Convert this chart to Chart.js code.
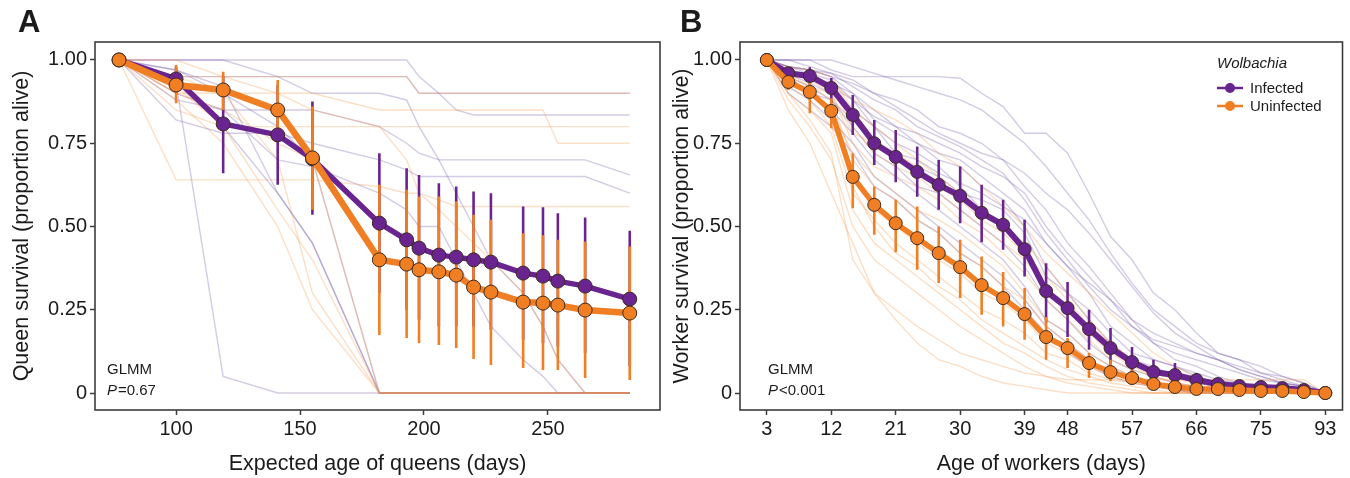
<!DOCTYPE html>
<html>
<head>
<meta charset="utf-8">
<script src="https://cdn.jsdelivr.net/npm/chart.js@4.4.1/dist/chart.umd.min.js"></script>
<style>
html, body { margin: 0; padding: 0; background: #fff; }
#wrap { position: relative; width: 1350px; height: 478px; overflow: hidden; }
.panel { position: absolute; top: 0; height: 478px; }
#panelA { left: 0; width: 672px; }
#panelB { left: 662px; width: 688px; }
</style>
</head>
<body>
<div id="wrap">
  <div class="panel" id="panelA"><canvas id="chartA"></canvas></div>
  <div class="panel" id="panelB"><canvas id="chartB"></canvas></div>
</div>
<script>
// ---- Panel A: queens ----
const queenAge = [77, 100, 119, 141, 155, 182, 193, 198, 206, 213, 220, 227, 240, 248, 254, 265, 283];
const queenInfected   = [1.00, 0.943, 0.808, 0.775, 0.703, 0.51, 0.46, 0.435, 0.414, 0.408, 0.40, 0.393, 0.36, 0.351, 0.336, 0.321, 0.282];
const queenInfHi      = [1.00, 0.98, 0.95, 0.925, 0.875, 0.72, 0.675, 0.655, 0.63, 0.62, 0.605, 0.60, 0.56, 0.558, 0.54, 0.527, 0.487];
const queenInfLo      = [1.00, 0.90, 0.66, 0.625, 0.535, 0.30, 0.25, 0.22, 0.20, 0.20, 0.20, 0.19, 0.16, 0.15, 0.14, 0.12, 0.08];
const queenUninfected = [1.00, 0.925, 0.91, 0.85, 0.706, 0.40, 0.387, 0.37, 0.364, 0.354, 0.318, 0.303, 0.273, 0.27, 0.264, 0.249, 0.24];
const queenUninfHi    = [1.00, 0.985, 0.965, 0.94, 0.86, 0.625, 0.61, 0.59, 0.59, 0.575, 0.535, 0.52, 0.48, 0.474, 0.46, 0.455, 0.44];
const queenUninfLo    = [1.00, 0.87, 0.85, 0.76, 0.55, 0.174, 0.165, 0.15, 0.144, 0.135, 0.102, 0.084, 0.075, 0.069, 0.069, 0.045, 0.039];

// individual colonies (panel A)
const queenColoniesInf = [
  [1, 0.93, 0.05, 0, 0, 0, 0, 0, 0, 0, 0, 0, 0, 0, 0, 0, 0],
  [1, 0.97, 0.92, 0.60, 0.45, 0, 0, 0, 0, 0, 0, 0, 0, 0, 0, 0, 0],
  [1, 0.95, 0.95, 0.95, 0.95, 0.95, 0.95, 0.90, 0.90, 0.90, 0.90, 0.90, 0.90, 0.90, 0.90, 0.90, 0.90],
  [1, 1, 1, 1, 1, 1, 1, 0.95, 0.90, 0.85, 0.835, 0.835, 0.835, 0.835, 0.835, 0.835, 0.835],
  [1, 0.90, 0.85, 0.85, 0.85, 0.80, 0.75, 0.72, 0.70, 0.70, 0.70, 0.70, 0.70, 0.70, 0.70, 0.70, 0.655],
  [1, 0.82, 0.78, 0.78, 0.75, 0.70, 0.67, 0.65, 0.65, 0.65, 0.65, 0.65, 0.65, 0.65, 0.65, 0.65, 0.60],
  [1, 1, 1, 0.95, 0.90, 0.90, 0.88, 0.80, 0.70, 0.60, 0.50, 0.40, 0.30, 0.20, 0.10, 0, 0],
  [1, 0.88, 0.85, 0.70, 0.68, 0.60, 0.55, 0.50, 0.50, 0.40, 0.30, 0.20, 0.10, 0.05, 0, 0, 0],
  [1, 0.97, 0.90, 0.80, 0.70, 0, 0, 0, 0, 0, 0, 0, 0, 0, 0, 0, 0],
  [1, 0.93, 0.80, 0.60, 0.45, 0, 0, 0, 0, 0, 0, 0, 0, 0, 0, 0, 0]
];
const queenColoniesUninf = [
  [1, 0.95, 0.95, 0.95, 0.95, 0.95, 0.95, 0.90, 0.90, 0.90, 0.90, 0.90, 0.90, 0.90, 0.90, 0.90, 0.90],
  [1, 0.90, 0.90, 0.90, 0.90, 0.85, 0.85, 0.85, 0.85, 0.85, 0.85, 0.85, 0.85, 0.85, 0.75, 0.75, 0.75],
  [1, 0.85, 0.80, 0.80, 0.80, 0.80, 0.80, 0.80, 0.80, 0.80, 0.80, 0.80, 0.80, 0.80, 0.80, 0.80, 0.80],
  [1, 0.64, 0.64, 0.64, 0.64, 0.62, 0.60, 0.60, 0.58, 0.56, 0.56, 0.56, 0.56, 0.56, 0.56, 0.56, 0.56],
  [1, 0.90, 0.85, 0.75, 0.70, 0, 0, 0, 0, 0, 0, 0, 0, 0, 0, 0, 0],
  [1, 0.92, 0.80, 0.55, 0.40, 0, 0, 0, 0, 0, 0, 0, 0, 0, 0, 0, 0],
  [1, 0.95, 0.90, 0.70, 0.30, 0, 0, 0, 0, 0, 0, 0, 0, 0, 0, 0, 0],
  [1, 1, 0.95, 0.90, 0.85, 0.80, 0.70, 0.60, 0.55, 0.50, 0.45, 0.40, 0.30, 0.20, 0.10, 0, 0],
  [1, 0.88, 0.75, 0.50, 0.25, 0, 0, 0, 0, 0, 0, 0, 0, 0, 0, 0, 0]
];

// ---- Panel B: workers ----
const workerAge = [3, 6, 9, 12, 15, 18, 21, 24, 27, 30, 33, 36, 39, 42, 48, 51, 54, 57, 60, 63, 66, 69, 72, 75, 81, 87, 93];
const workerTickDays = [3, 12, 21, 30, 39, 48, 57, 66, 75, 93];
const workerInfected   = [1.00, 0.96, 0.952, 0.916, 0.835, 0.75, 0.709, 0.664, 0.625, 0.592, 0.541, 0.505, 0.432, 0.306, 0.255, 0.192, 0.135, 0.093, 0.063, 0.054, 0.039, 0.027, 0.021, 0.018, 0.015, 0.009, 0.0];
const workerInfHi      = [1.00, 0.975, 0.978, 0.946, 0.895, 0.82, 0.79, 0.74, 0.70, 0.68, 0.625, 0.58, 0.52, 0.39, 0.333, 0.25, 0.195, 0.138, 0.10, 0.09, 0.06, 0.04, 0.03, 0.025, 0.02, 0.012, 0.0];
const workerInfLo      = [1.00, 0.945, 0.925, 0.87, 0.775, 0.685, 0.633, 0.589, 0.55, 0.51, 0.453, 0.43, 0.35, 0.21, 0.168, 0.13, 0.085, 0.05, 0.04, 0.035, 0.025, 0.015, 0.012, 0.01, 0.008, 0.005, 0.0];
const workerUninfected = [1.00, 0.934, 0.904, 0.847, 0.649, 0.565, 0.51, 0.465, 0.42, 0.378, 0.324, 0.285, 0.237, 0.168, 0.135, 0.09, 0.063, 0.045, 0.027, 0.018, 0.012, 0.012, 0.009, 0.006, 0.006, 0.003, 0.0];
const workerUninfHi    = [1.00, 0.955, 0.935, 0.885, 0.72, 0.62, 0.58, 0.56, 0.50, 0.46, 0.41, 0.363, 0.315, 0.228, 0.165, 0.12, 0.10, 0.07, 0.045, 0.03, 0.02, 0.02, 0.015, 0.01, 0.01, 0.006, 0.0];
const workerUninfLo    = [1.00, 0.91, 0.84, 0.795, 0.555, 0.475, 0.423, 0.37, 0.33, 0.285, 0.235, 0.20, 0.16, 0.10, 0.075, 0.045, 0.035, 0.025, 0.015, 0.01, 0.006, 0.006, 0.004, 0.003, 0.003, 0.001, 0.0];

// individual colonies (panel B)
const workerColoniesInf = [
  [1, 1, 1, 0.97, 0.95, 0.95, 0.95, 0.95, 0.95, 0.945, 0.90, 0.86, 0.78, 0.78, 0.72, 0.60, 0.47, 0.40, 0.30, 0.25, 0.18, 0.12, 0.10, 0.06, 0.04, 0.02, 0],
  [1, 0.98, 0.97, 0.95, 0.93, 0.90, 0.88, 0.85, 0.80, 0.78, 0.75, 0.70, 0.62, 0.55, 0.45, 0.38, 0.30, 0.22, 0.15, 0.10, 0.08, 0.05, 0.03, 0.02, 0.01, 0, 0],
  [1, 0.97, 0.95, 0.93, 0.90, 0.85, 0.80, 0.75, 0.72, 0.70, 0.65, 0.60, 0.55, 0.45, 0.38, 0.30, 0.20, 0.15, 0.10, 0.08, 0.05, 0.03, 0.02, 0.01, 0, 0, 0],
  [1, 0.95, 0.90, 0.88, 0.80, 0.72, 0.68, 0.62, 0.60, 0.55, 0.50, 0.45, 0.38, 0.28, 0.22, 0.15, 0.10, 0.07, 0.05, 0.03, 0.02, 0.01, 0, 0, 0, 0, 0],
  [1, 0.93, 0.90, 0.85, 0.78, 0.70, 0.65, 0.60, 0.55, 0.50, 0.45, 0.40, 0.32, 0.22, 0.18, 0.12, 0.08, 0.05, 0.03, 0.02, 0.01, 0, 0, 0, 0, 0, 0],
  [1, 0.98, 0.97, 0.95, 0.90, 0.82, 0.78, 0.75, 0.70, 0.68, 0.62, 0.58, 0.50, 0.38, 0.30, 0.25, 0.18, 0.12, 0.10, 0.08, 0.06, 0.04, 0.03, 0.02, 0.02, 0.01, 0],
  [1, 0.95, 0.92, 0.88, 0.82, 0.75, 0.70, 0.68, 0.65, 0.60, 0.58, 0.55, 0.48, 0.35, 0.30, 0.22, 0.15, 0.10, 0.08, 0.05, 0.04, 0.03, 0.02, 0.02, 0.01, 0, 0],
  [1, 0.96, 0.93, 0.90, 0.85, 0.80, 0.75, 0.72, 0.68, 0.62, 0.55, 0.50, 0.42, 0.30, 0.25, 0.20, 0.14, 0.10, 0.06, 0.05, 0.03, 0.02, 0.01, 0.01, 0, 0, 0],
  [1, 0.92, 0.88, 0.82, 0.75, 0.65, 0.60, 0.55, 0.50, 0.45, 0.40, 0.35, 0.28, 0.20, 0.15, 0.10, 0.06, 0.04, 0.02, 0.01, 0, 0, 0, 0, 0, 0, 0],
  [1, 0.98, 0.96, 0.94, 0.88, 0.83, 0.80, 0.78, 0.75, 0.72, 0.68, 0.65, 0.60, 0.50, 0.42, 0.35, 0.28, 0.20, 0.15, 0.12, 0.10, 0.08, 0.06, 0.04, 0.03, 0.02, 0],
  [1, 1, 0.98, 0.96, 0.92, 0.88, 0.85, 0.80, 0.77, 0.74, 0.70, 0.66, 0.58, 0.48, 0.40, 0.32, 0.25, 0.20, 0.16, 0.14, 0.12, 0.10, 0.08, 0.06, 0.05, 0.03, 0],
  [1, 0.90, 0.85, 0.80, 0.72, 0.62, 0.58, 0.52, 0.48, 0.42, 0.38, 0.32, 0.25, 0.18, 0.12, 0.08, 0.05, 0.03, 0.02, 0.01, 0, 0, 0, 0, 0, 0, 0],
  [1, 0.97, 0.94, 0.92, 0.88, 0.80, 0.72, 0.70, 0.66, 0.63, 0.60, 0.56, 0.52, 0.45, 0.38, 0.33, 0.28, 0.22, 0.18, 0.15, 0.12, 0.10, 0.07, 0.05, 0.03, 0.02, 0],
  [1, 1, 1, 1, 0.98, 0.96, 0.94, 0.92, 0.90, 0.88, 0.85, 0.80, 0.75, 0.68, 0.60, 0.52, 0.42, 0.33, 0.25, 0.20, 0.15, 0.12, 0.10, 0.08, 0.05, 0.03, 0],
  [1, 0.98, 0.97, 0.96, 0.94, 0.90, 0.86, 0.82, 0.78, 0.75, 0.72, 0.70, 0.66, 0.60, 0.55, 0.48, 0.40, 0.32, 0.24, 0.18, 0.14, 0.10, 0.07, 0.05, 0.03, 0.02, 0]
];
const workerColoniesUninf = [
  [1, 0.85, 0.75, 0.60, 0.45, 0.30, 0.22, 0.15, 0.10, 0.08, 0.05, 0.03, 0.02, 0.01, 0, 0, 0, 0, 0, 0, 0, 0, 0, 0, 0, 0, 0],
  [1, 0.90, 0.85, 0.78, 0.55, 0.45, 0.40, 0.35, 0.30, 0.25, 0.20, 0.15, 0.12, 0.08, 0.05, 0.03, 0.02, 0.01, 0, 0, 0, 0, 0, 0, 0, 0, 0],
  [1, 0.95, 0.92, 0.88, 0.70, 0.62, 0.58, 0.52, 0.48, 0.42, 0.38, 0.32, 0.28, 0.20, 0.15, 0.10, 0.06, 0.04, 0.02, 0.01, 0, 0, 0, 0, 0, 0, 0],
  [1, 0.97, 0.95, 0.92, 0.80, 0.72, 0.68, 0.65, 0.60, 0.55, 0.50, 0.45, 0.40, 0.32, 0.25, 0.18, 0.12, 0.08, 0.05, 0.03, 0.02, 0.01, 0, 0, 0, 0, 0],
  [1, 0.92, 0.88, 0.80, 0.60, 0.52, 0.45, 0.40, 0.35, 0.30, 0.25, 0.22, 0.18, 0.12, 0.10, 0.06, 0.04, 0.03, 0.02, 0.01, 0, 0, 0, 0, 0, 0, 0],
  [1, 0.95, 0.90, 0.85, 0.72, 0.65, 0.60, 0.55, 0.52, 0.48, 0.43, 0.38, 0.30, 0.22, 0.18, 0.12, 0.08, 0.05, 0.03, 0.02, 0.01, 0, 0, 0, 0, 0, 0],
  [1, 0.88, 0.80, 0.70, 0.50, 0.40, 0.35, 0.30, 0.25, 0.20, 0.16, 0.12, 0.08, 0.05, 0.03, 0.02, 0.01, 0, 0, 0, 0, 0, 0, 0, 0, 0, 0],
  [1, 0.96, 0.94, 0.90, 0.78, 0.75, 0.72, 0.68, 0.62, 0.58, 0.52, 0.48, 0.42, 0.35, 0.28, 0.20, 0.15, 0.10, 0.07, 0.05, 0.03, 0.02, 0.01, 0, 0, 0, 0],
  [1, 0.93, 0.90, 0.86, 0.65, 0.55, 0.50, 0.45, 0.40, 0.36, 0.30, 0.27, 0.22, 0.15, 0.12, 0.08, 0.05, 0.03, 0.02, 0.01, 0, 0, 0, 0, 0, 0, 0],
  [1, 0.98, 0.97, 0.95, 0.85, 0.80, 0.75, 0.70, 0.65, 0.60, 0.55, 0.50, 0.45, 0.38, 0.30, 0.22, 0.15, 0.10, 0.06, 0.04, 0.03, 0.02, 0.01, 0, 0, 0, 0],
  [1, 0.90, 0.82, 0.72, 0.40, 0.30, 0.25, 0.20, 0.16, 0.12, 0.10, 0.08, 0.06, 0.05, 0.04, 0.04, 0.04, 0.04, 0.04, 0.04, 0.04, 0.04, 0.04, 0.04, 0.04, 0.04, 0],
  [1, 0.94, 0.90, 0.85, 0.62, 0.50, 0.42, 0.38, 0.32, 0.28, 0.22, 0.18, 0.14, 0.10, 0.07, 0.05, 0.03, 0.02, 0.01, 0, 0, 0, 0, 0, 0, 0, 0],
  [1, 0.96, 0.92, 0.90, 0.75, 0.68, 0.65, 0.62, 0.58, 0.52, 0.48, 0.42, 0.36, 0.28, 0.22, 0.16, 0.10, 0.07, 0.05, 0.03, 0.02, 0.01, 0.01, 0, 0, 0, 0],
  [1, 0.97, 0.95, 0.93, 0.88, 0.85, 0.82, 0.78, 0.72, 0.68, 0.62, 0.56, 0.50, 0.42, 0.36, 0.30, 0.24, 0.18, 0.12, 0.08, 0.05, 0.03, 0.02, 0.01, 0, 0, 0]
];

const yTicks = [0, 0.25, 0.5, 0.75, 1];

const PURPLE = '#6a2490';
const ORANGE = '#f07e22';
const PURPLE_FAINT = 'rgba(112, 84, 165, 0.30)';
const ORANGE_FAINT = 'rgba(246, 150, 70, 0.30)';
const INK = '#1b1b1b';
const FONT = '"Liberation Sans", Arial, Helvetica, sans-serif';

Chart.defaults.font.family = FONT;
Chart.defaults.color = INK;

function meanLine(xs, ys, color, order, radius, width) {
    return {
        data: xs.map((x, i) => ({ x: x, y: ys[i] })),
        borderColor: color,
        backgroundColor: color,
        borderWidth: width,
        borderJoinStyle: 'round',
        borderCapStyle: 'round',
        pointRadius: radius,
        pointBackgroundColor: color,
        pointBorderColor: '#3d2a20',
        pointBorderWidth: 1,
        tension: 0,
        order: order
    };
}

function errorBars(xs, lo, hi, color, order) {
    const pts = [];
    xs.forEach((x, i) => {
        pts.push({ x: x, y: lo[i] }, { x: x, y: hi[i] }, { x: x, y: null });
    });
    return {
        data: pts,
        borderColor: color,
        borderWidth: 2.6,
        borderCapStyle: 'butt',
        pointRadius: 0,
        spanGaps: false,
        order: order
    };
}

function colonyLines(xs, list, color, order) {
    return list.map(vals => ({
        data: xs.map((x, i) => ({ x: x, y: vals[i] })),
        borderColor: color,
        borderWidth: 1.4,
        pointRadius: 0,
        tension: 0,
        order: order
    }));
}

// chart area frame
const framePlugin = {
    id: 'frame',
    afterDatasetsDraw(chart) {
        const a = chart.chartArea;
        const ctx = chart.ctx;
        ctx.save();
        ctx.strokeStyle = '#3c3c3c';
        ctx.lineWidth = 1.6;
        ctx.strokeRect(a.left, a.top, a.right - a.left, a.bottom - a.top);
        ctx.restore();
    }
};

// panel letters, statistics text and legend
const textPlugin = {
    id: 'panelText',
    afterDraw(chart, args, opts) {
        const ctx = chart.ctx;
        ctx.save();
        ctx.fillStyle = INK;
        ctx.textBaseline = 'alphabetic';
        ctx.textAlign = 'left';
        ctx.font = 'bold 31px ' + FONT;
        ctx.fillText(opts.letter, opts.letterX, 32);

        ctx.font = '15px ' + FONT;
        ctx.fillText('GLMM', opts.statX, 374);
        ctx.font = 'italic 15px ' + FONT;
        ctx.fillText('P', opts.statX, 395);
        const pw = ctx.measureText('P').width;
        ctx.font = '15px ' + FONT;
        ctx.fillText(opts.stat, opts.statX + pw + 1, 395);

        if (opts.legendX !== undefined) {
            const lx = opts.legendX;
            ctx.font = 'italic 15px ' + FONT;
            ctx.fillText('Wolbachia', lx, 68);
            const items = [['Infected', PURPLE, 88], ['Uninfected', ORANGE, 106]];
            items.forEach(([label, color, y]) => {
                ctx.strokeStyle = color;
                ctx.lineWidth = 2.5;
                ctx.beginPath();
                ctx.moveTo(lx, y);
                ctx.lineTo(lx + 26, y);
                ctx.stroke();
                ctx.fillStyle = color;
                ctx.beginPath();
                ctx.arc(lx + 13, y, 5, 0, Math.PI * 2);
                ctx.fill();
                ctx.fillStyle = INK;
                ctx.font = '15px ' + FONT;
                ctx.fillText(label, lx + 33, y + 5);
            });
        }
        ctx.restore();
    }
};

function yScale(title, width, titlePad) {
    return {
        type: 'linear',
        min: -0.051,
        max: 1.054,
        afterBuildTicks: s => { s.ticks = yTicks.map(v => ({ value: v })); },
        afterFit: s => { s.width = width; },
        ticks: {
            font: { size: 20 },
            color: INK,
            padding: 3,
            callback: v => (v === 0 ? '0' : v.toFixed(2))
        },
        grid: { drawOnChartArea: false, drawTicks: true, tickLength: 5, tickColor: '#3c3c3c', tickWidth: 1.5 },
        border: { display: false },
        title: { display: true, text: title, font: { size: 21.5 }, color: INK, padding: { top: titlePad, bottom: 0 } }
    };
}

function xScale(title, min, max, tickVals, labelFn) {
    return {
        type: 'linear',
        min: min,
        max: max,
        afterBuildTicks: s => { s.ticks = tickVals.map(v => ({ value: v })); },
        afterFit: s => { s.height = 68; },
        ticks: {
            font: { size: 20 },
            color: INK,
            padding: 2,
            maxRotation: 0,
            autoSkip: false,
            callback: labelFn
        },
        grid: { drawOnChartArea: false, drawTicks: true, tickLength: 5, tickColor: '#3c3c3c', tickWidth: 1.5 },
        border: { display: false },
        title: { display: true, text: title, font: { size: 21.5 }, color: INK, padding: { top: 0, bottom: 1 } }
    };
}

function baseOptions(padRight) {
    return {
        responsive: true,
        maintainAspectRatio: false,
        animation: false,
        events: [],
        layout: { padding: { top: 42, right: padRight, left: 0, bottom: 0 } },
        plugins: { legend: { display: false }, tooltip: { enabled: false } }
    };
}

// Panel A
const optsA = baseOptions(12);
optsA.scales = {
    x: xScale('Expected age of queens (days)', 67.3, 295.2, [100, 150, 200, 250], v => v),
    y: yScale('Queen survival (proportion alive)', 95, 9)
};
optsA.plugins.panelText = { letter: 'A', letterX: 18, statX: 107, stat: '=0.67' };

new Chart(document.getElementById('chartA'), {
    type: 'line',
    data: {
        datasets: [
            meanLine(queenAge, queenUninfected, ORANGE, 0, 7, 6.5),
            meanLine(queenAge, queenInfected, PURPLE, 1, 7, 5.5),
            errorBars(queenAge, queenUninfLo, queenUninfHi, ORANGE, 2),
            errorBars(queenAge, queenInfLo, queenInfHi, PURPLE, 3),
            ...colonyLines(queenAge, queenColoniesUninf, ORANGE_FAINT, 10),
            ...colonyLines(queenAge, queenColoniesInf, PURPLE_FAINT, 11)
        ]
    },
    options: optsA,
    plugins: [framePlugin, textPlugin]
});

// Panel B (x positions are the sampling occasions, labelled by day)
const workerIdx = workerAge.map((d, i) => i);
const workerTickIdx = workerTickDays.map(d => workerAge.indexOf(d));

const optsB = baseOptions(7);
optsB.scales = {
    x: xScale('Age of workers (days)', -1.25, 26.8, workerTickIdx, v => workerAge[v]),
    y: yScale('Worker survival (proportion alive)', 78, 7)
};
optsB.plugins.panelText = { letter: 'B', letterX: 18, statX: 106, stat: '<0.001', legendX: 555 };

new Chart(document.getElementById('chartB'), {
    type: 'line',
    data: {
        datasets: [
            meanLine(workerIdx, workerUninfected, ORANGE, 0, 6.5, 5.5),
            meanLine(workerIdx, workerInfected, PURPLE, 1, 6.5, 6),
            errorBars(workerIdx, workerUninfLo, workerUninfHi, ORANGE, 2),
            errorBars(workerIdx, workerInfLo, workerInfHi, PURPLE, 3),
            ...colonyLines(workerIdx, workerColoniesUninf, ORANGE_FAINT, 10),
            ...colonyLines(workerIdx, workerColoniesInf, PURPLE_FAINT, 11)
        ]
    },
    options: optsB,
    plugins: [framePlugin, textPlugin]
});
</script>
</body>
</html>
